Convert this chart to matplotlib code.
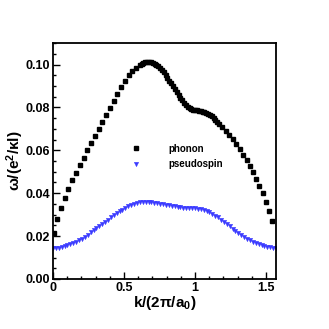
import numpy as np
import matplotlib
matplotlib.use("Agg")
import matplotlib.pyplot as plt
from matplotlib.ticker import MultipleLocator, FormatStrFormatter

plt.rcParams['font.family'] = ['Liberation Sans', 'DejaVu Sans']
plt.rcParams['mathtext.fontset'] = 'custom'
plt.rcParams['mathtext.rm'] = 'Liberation Sans:bold'
plt.rcParams['mathtext.it'] = 'Liberation Sans:bold'
plt.rcParams['mathtext.bf'] = 'Liberation Sans:bold'

# phonon branch (k, omega)
phonon_k = [0.005, 0.030, 0.056, 0.082, 0.109, 0.136, 0.163, 0.189, 0.216, 0.242,
            0.268, 0.295, 0.322, 0.348, 0.375, 0.401, 0.428, 0.454, 0.481, 0.507,
            0.533, 0.559, 0.585, 0.611,
            0.624, 0.637, 0.650, 0.663, 0.676, 0.689, 0.702, 0.715, 0.728, 0.741,
            0.754, 0.767, 0.780, 0.793, 0.806, 0.819, 0.832, 0.845, 0.858, 0.871,
            0.884, 0.897, 0.910, 0.923, 0.936, 0.949, 0.962, 0.975, 0.988, 1.001,
            1.014, 1.027, 1.040, 1.053, 1.066, 1.079, 1.092, 1.105, 1.118, 1.131,
            1.144, 1.157, 1.170,
            1.193, 1.217, 1.241, 1.265, 1.290, 1.318, 1.341, 1.365, 1.386, 1.407,
            1.431, 1.454, 1.478, 1.501, 1.522, 1.545]
phonon_w = [0.0213, 0.0278, 0.0331, 0.0379, 0.0421, 0.0462, 0.0495, 0.0530, 0.0566, 0.0600,
            0.0633, 0.0666, 0.0700, 0.0733, 0.0765, 0.0799, 0.0830, 0.0862, 0.0893, 0.0922,
            0.0949, 0.0972, 0.0986, 0.0997,
            0.1003, 0.1007, 0.1010, 0.1011, 0.1011, 0.1010, 0.1007, 0.1003, 0.0998, 0.0991,
            0.0983, 0.0974, 0.0963, 0.0951, 0.0939, 0.0925, 0.0912, 0.0898, 0.0884, 0.0870,
            0.0857, 0.0845, 0.0833, 0.0822, 0.0812, 0.0804, 0.0797, 0.0792, 0.0789, 0.0787,
            0.0786, 0.0785, 0.0783, 0.0781, 0.0778, 0.0774, 0.0769, 0.0764, 0.0758, 0.0751,
            0.0743, 0.0734, 0.0724,
            0.0709, 0.0691, 0.0672, 0.0651, 0.0629, 0.0605, 0.0579, 0.0555, 0.0527, 0.0498,
            0.0467, 0.0434, 0.0400, 0.0361, 0.0317, 0.0269]

# pseudospin branch on a uniform k grid
pseudo_k = np.linspace(0, np.pi / 2, 78)
pseudo_w = [0.0146, 0.0144, 0.0145, 0.0148, 0.0152, 0.0157, 0.0162, 0.0167, 0.0173, 0.0180,
            0.0188, 0.0198, 0.0207, 0.0217, 0.0227, 0.0237, 0.0247, 0.0257, 0.0267, 0.0277,
            0.0287, 0.0297, 0.0306, 0.0315, 0.0324, 0.0333, 0.0340, 0.0346, 0.0351, 0.0355,
            0.0357, 0.0359, 0.0359, 0.0359, 0.0358, 0.0356, 0.0354, 0.0352, 0.0349, 0.0346,
            0.0343, 0.0341, 0.0339, 0.0337, 0.0335, 0.0333, 0.0332, 0.0331, 0.0330, 0.0329,
            0.0328, 0.0326, 0.0323, 0.0318, 0.0312, 0.0304, 0.0296, 0.0287, 0.0277, 0.0267,
            0.0256, 0.0245, 0.0234, 0.0224, 0.0214, 0.0205, 0.0196, 0.0188, 0.0180, 0.0173,
            0.0167, 0.0162, 0.0157, 0.0153, 0.0150, 0.0148, 0.0146, 0.0146]

fig = plt.figure(figsize=(3.29, 3.29), dpi=100)
ax = fig.add_axes([0.161, 0.152, 0.678, 0.717])

ax.plot(phonon_k, phonon_w, linestyle='none', marker='s', markersize=2.2,
        color='black', label='phonon')
ax.plot(pseudo_k, pseudo_w, linestyle='none', marker='v', markersize=3.2,
        color='#3b3bff', markeredgewidth=0.3, label='pseudospin')

ax.set_xlim(0, np.pi / 2)
ax.set_ylim(0, 0.11)
ax.xaxis.set_major_locator(MultipleLocator(0.5))
ax.xaxis.set_minor_locator(MultipleLocator(0.1))
ax.yaxis.set_major_locator(MultipleLocator(0.02))
ax.yaxis.set_minor_locator(MultipleLocator(0.005))
ax.yaxis.set_major_formatter(FormatStrFormatter('%.2f'))
ax.xaxis.set_major_formatter(plt.FuncFormatter(lambda v, p: '%g' % v))

ax.tick_params(which='both', direction='in', top=False, right=False, width=1.0)
ax.tick_params(which='major', length=5, labelsize=9, pad=2)
ax.tick_params(which='minor', length=2.5)
for s in ax.spines.values():
    s.set_linewidth(1.3)

ax.set_xlabel(r'k/(2π/a$_{0}$)', fontsize=11, fontweight='bold', labelpad=0)
ax.set_ylabel(r'ω/(e$^{2}$/κl)', fontsize=11, fontweight='bold', labelpad=0)

ax.legend(loc='center left', bbox_to_anchor=(0.31, 0.52), frameon=False,
          prop={'size': 7, 'weight': 'bold'}, handletextpad=2.9,
          labelspacing=0.55, markerscale=1.0, handlelength=1.0)

for lab in ax.get_xticklabels() + ax.get_yticklabels():
    lab.set_fontweight('bold')

fig.savefig('out.png', dpi=100)
